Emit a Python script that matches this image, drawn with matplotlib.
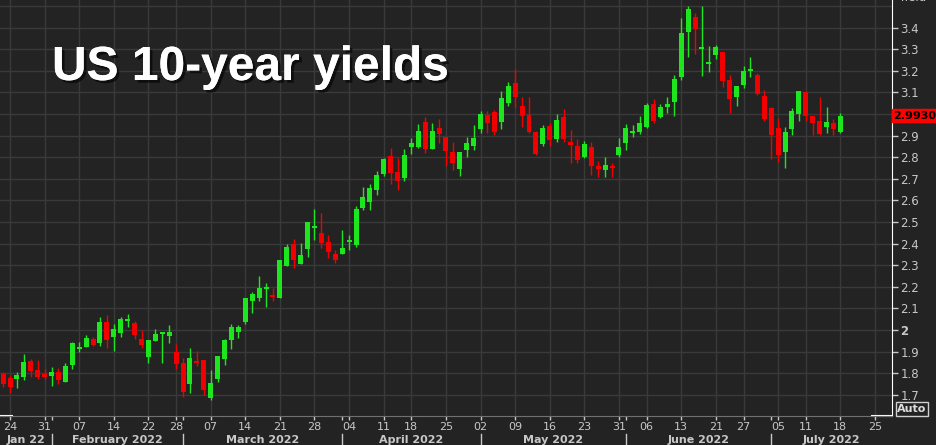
import numpy as np
import pandas as pd
import matplotlib
matplotlib.use('Agg')
import matplotlib.pyplot as plt
import matplotlib.patheffects as pe
from matplotlib.patches import Rectangle
from matplotlib.transforms import blended_transform_factory

# trading days (US bond market), chart runs a bit into the future
holidays = ['2022-02-21', '2022-04-15', '2022-05-30', '2022-06-20', '2022-07-04']
days = pd.bdate_range('2022-01-21', '2022-07-29')
days = days[~days.isin(pd.to_datetime(holidays))]

# daily OHLC, Jan 21 .. Jul 18
opens = [1.795, 1.779, 1.773, 1.782, 1.857, 1.815, 1.795, 1.789, 1.804, 1.761,
         1.840, 1.910, 1.923, 1.958, 1.938, 2.037, 1.969, 1.988, 2.042, 2.032,
         1.958, 1.877, 1.951, 1.983, 1.974, 1.899, 1.847, 1.748, 1.858, 1.861,
         1.687, 1.773, 1.867, 1.955, 1.992, 2.035, 2.136, 2.150, 2.188, 2.162,
         2.150, 2.298, 2.398, 2.307, 2.375, 2.474, 2.450, 2.407, 2.351, 2.352,
         2.407, 2.393, 2.566, 2.594, 2.648, 2.721, 2.806, 2.733, 2.702, 2.849,
         2.849, 2.963, 2.840, 2.935, 2.892, 2.823, 2.744, 2.835, 2.853, 2.929,
         2.995, 3.008, 2.965, 3.052, 3.142, 3.037, 2.995, 2.917, 2.861, 2.944,
         2.883, 2.985, 2.872, 2.853, 2.803, 2.849, 2.761, 2.741, 2.756, 2.810,
         2.867, 2.914, 2.917, 2.938, 3.046, 2.988, 3.034, 3.057, 3.173, 3.381,
         3.451, 3.301, 3.230, 3.273, 3.289, 3.157, 3.080, 3.134, 3.201, 3.181,
         3.083, 3.028, 2.937, 2.826, 2.931, 3.000, 3.103, 2.992, 2.967, 2.941,
         2.957, 2.915]
highs = [1.806, 1.792, 1.806, 1.889, 1.867, 1.861, 1.818, 1.827, 1.823, 1.849,
         1.946, 1.944, 1.977, 1.969, 2.059, 2.069, 2.029, 2.062, 2.073, 2.040,
         2.000, 1.955, 2.003, 1.988, 2.023, 1.936, 1.870, 1.915, 1.904, 1.861,
         1.815, 1.880, 1.960, 2.028, 2.023, 2.150, 2.177, 2.250, 2.219, 2.193,
         2.324, 2.397, 2.421, 2.401, 2.502, 2.560, 2.541, 2.440, 2.370, 2.463,
         2.440, 2.574, 2.662, 2.676, 2.736, 2.798, 2.844, 2.798, 2.836, 2.889,
         2.954, 2.985, 2.957, 2.975, 2.892, 2.872, 2.823, 2.895, 2.949, 3.014,
         3.014, 3.019, 3.108, 3.147, 3.207, 3.077, 3.077, 2.920, 2.949, 2.957,
         3.000, 3.022, 2.926, 2.883, 2.874, 2.869, 2.783, 2.800, 2.775, 2.891,
         2.954, 2.949, 2.991, 3.050, 3.069, 3.046, 3.077, 3.181, 3.446, 3.500,
         3.466, 3.500, 3.315, 3.320, 3.289, 3.181, 3.130, 3.222, 3.265, 3.191,
         3.111, 3.031, 2.983, 2.942, 3.026, 3.108, 3.108, 2.992, 3.077, 3.034,
         2.978, 3.003]
lows = [1.738, 1.710, 1.733, 1.769, 1.784, 1.772, 1.775, 1.742, 1.748, 1.759,
        1.818, 1.900, 1.920, 1.927, 1.927, 1.918, 1.904, 1.969, 2.012, 1.957,
        1.915, 1.849, 1.951, 1.849, 1.938, 1.820, 1.688, 1.707, 1.833, 1.699,
        1.675, 1.761, 1.839, 1.912, 1.965, 2.028, 2.080, 2.136, 2.108, 2.136,
        2.150, 2.298, 2.289, 2.307, 2.340, 2.417, 2.381, 2.332, 2.312, 2.352,
        2.370, 2.386, 2.555, 2.555, 2.625, 2.713, 2.676, 2.648, 2.691, 2.813,
        2.841, 2.821, 2.840, 2.867, 2.759, 2.741, 2.715, 2.799, 2.832, 2.911,
        2.914, 2.903, 2.929, 3.039, 3.031, 2.941, 2.911, 2.812, 2.852, 2.852,
        2.872, 2.872, 2.772, 2.772, 2.795, 2.718, 2.710, 2.710, 2.710, 2.803,
        2.833, 2.892, 2.908, 2.934, 2.960, 2.980, 3.006, 2.991, 3.158, 3.265,
        3.278, 3.176, 3.196, 3.253, 3.127, 3.003, 3.037, 3.122, 3.173, 3.088,
        2.969, 2.790, 2.779, 2.749, 2.903, 2.969, 2.969, 2.901, 2.901, 2.914,
        2.901, 2.910]
closes = [1.750, 1.735, 1.792, 1.852, 1.812, 1.784, 1.784, 1.806, 1.769, 1.833,
          1.941, 1.921, 1.963, 1.932, 2.039, 1.954, 2.005, 2.053, 2.051, 1.977,
          1.931, 1.954, 1.981, 1.987, 1.989, 1.845, 1.715, 1.870, 1.849, 1.724,
          1.755, 1.880, 1.954, 2.014, 2.014, 2.150, 2.167, 2.194, 2.200, 2.151,
          2.324, 2.384, 2.326, 2.346, 2.502, 2.481, 2.404, 2.363, 2.324, 2.378,
          2.416, 2.560, 2.617, 2.658, 2.718, 2.790, 2.728, 2.691, 2.810, 2.866,
          2.921, 2.838, 2.921, 2.909, 2.830, 2.775, 2.823, 2.864, 2.890, 2.998,
          2.957, 2.918, 3.073, 3.130, 3.080, 2.992, 2.915, 2.815, 2.937, 2.880,
          2.972, 2.885, 2.857, 2.787, 2.861, 2.759, 2.744, 2.766, 2.751, 2.849,
          2.937, 2.923, 2.957, 3.042, 2.969, 3.031, 3.045, 3.162, 3.377, 3.486,
          3.394, 3.310, 3.242, 3.310, 3.154, 3.070, 3.130, 3.201, 3.210, 3.093,
          2.975, 2.903, 2.810, 2.917, 3.014, 3.108, 2.992, 2.960, 2.909, 2.963,
          2.932, 2.993]
last_value = 2.9930
title = 'US 10-year yields'

BG = '#232323'
GRID = '#3a3a3a'
TXT = '#c8c8c8'
UP = '#1ee61e'
DOWN = '#f20000'

fig = plt.figure(figsize=(9.37, 4.45), dpi=100)
fig.patch.set_facecolor(BG)
ax = fig.add_axes([0, 29 / 445, 892 / 937, 416 / 445])
ax.set_facecolor(BG)

o = np.array(opens)
h = np.array(highs)
l = np.array(lows)
c = np.array(closes)
x = np.arange(len(o))
cols = np.where(c >= o, UP, DOWN)
ax.vlines(x, l, h, colors=cols, linewidth=1, zorder=3)
body = np.maximum(np.abs(c - o), 0.008)
ax.bar(x, body, bottom=np.minimum(o, c), width=0.72, color=cols, linewidth=0, zorder=4)

ax.set_xlim(-0.45, 128.46)
ax.set_ylim(1.602, 3.528)

# weekly ticks (first trading day of each week) and month starts
pos = np.arange(len(days))
week = [i for i in pos[1:] if days[i].isocalendar()[1] != days[i - 1].isocalendar()[1]]
month = [i for i in pos[1:] if days[i].month != days[i - 1].month]
ax.set_xticks(week)
ax.set_xticklabels([days[i].strftime('%d') for i in week])
ax.set_xticks(month, minor=True)
ax.tick_params(axis='x', which='both', colors=TXT, length=3, width=1, pad=1, labelsize=8)

yt = np.round(np.arange(1.7, 3.45, 0.1), 1)
ax.yaxis.tick_right()
ax.set_yticks(yt)
# the 3.0 label sits under the last-value box
ax.set_yticklabels(['2' if v == 2 else ('' if v == 3 else f'{v:.1f}') for v in yt])
ax.tick_params(axis='y', colors=TXT, length=4, width=1, pad=2, labelsize=8.5)
for t in ax.get_yticklabels():
    if t.get_text() == '2':
        t.set_fontweight('bold')

ax.grid(True, color=GRID, linewidth=1, zorder=0)
ax.axhline(3.5, color=GRID, linewidth=1, zorder=0)
for s in ['top', 'left']:
    ax.spines[s].set_visible(False)
ax.spines['right'].set_color('white')
ax.spines['bottom'].set_color('#707070')
ax.plot([0, 12 / 892], [0, 0], transform=ax.transAxes, color='white', lw=1.5, clip_on=False)
ax.plot([872 / 892, 1], [0, 0], transform=ax.transAxes, color='white', lw=1.5, clip_on=False)

# month row
tr = blended_transform_factory(ax.transData, ax.transAxes)
edges = [ax.get_xlim()[0]] + month + [ax.get_xlim()[1]]
names = ['Jan 22'] + [days[i].strftime('%B %Y') for i in month]
for k, name in enumerate(names):
    ax.text((edges[k] + edges[k + 1]) / 2, -0.058, name, transform=tr, ha='center', va='center',
            color=TXT, fontsize=8, fontweight='bold', clip_on=False)
for m in month:
    ax.plot([m, m], [-0.044, -0.075], transform=tr, color=TXT, lw=1, clip_on=False)

# last value marker on the axis
tr2 = blended_transform_factory(ax.transAxes, ax.transData)
ax.add_patch(Rectangle((1.0, last_value - 0.03), 45 / 892, 0.06, transform=tr2,
                       color='#ff0000', clip_on=False, zorder=5))
ax.text(1.0 + 23 / 892, last_value, f'{last_value:.4f}', transform=tr2, ha='center', va='center',
        color='black', fontsize=8, fontweight='bold', zorder=6, clip_on=False)

fig.text(898 / 937, 1.006, 'Yield', color=TXT, fontsize=8.5, va='center', ha='left')
fig.text(912 / 937, 1 - 409 / 445, 'Auto', color='#dddddd', fontsize=8, fontweight='bold',
         ha='center', va='center',
         bbox=dict(boxstyle='square,pad=0.15', facecolor=BG, edgecolor='#d0d0d0', linewidth=1))

fig.text(52 / 937, 1 - 80 / 445, title, color='white', fontsize=34.5, fontweight='bold',
         family='Liberation Sans', va='baseline', ha='left',
         path_effects=[pe.withSimplePatchShadow(offset=(2, -2), shadow_rgbFace='black', alpha=0.6),
                       pe.Normal()])

fig.savefig('out.png', dpi=100, facecolor=BG)
